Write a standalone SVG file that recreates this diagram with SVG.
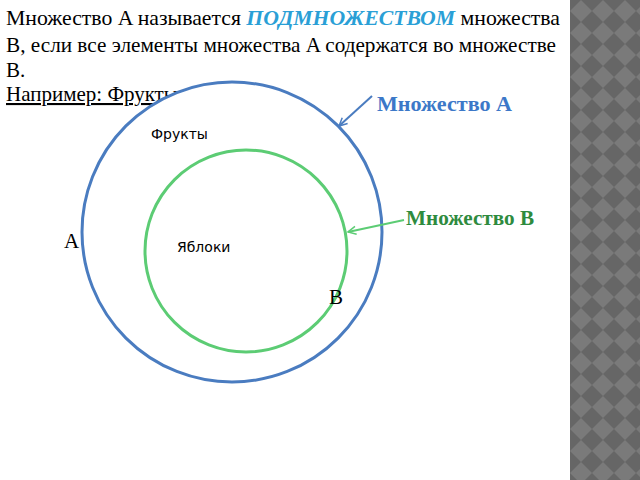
<svg xmlns="http://www.w3.org/2000/svg" width="640" height="480" viewBox="0 0 640 480">
<style>
.t{font-family:"Liberation Serif",serif;font-size:21px;fill:#000}
.s{font-family:"DejaVu Sans",sans-serif;font-size:14px;fill:#000}
</style>
<defs>
<pattern id="dia" width="22" height="22" patternUnits="userSpaceOnUse" x="570">
<rect width="22" height="22" fill="#666"/>
<path d="M11 0L22 11L11 22L0 11Z" fill="#7a7a7a"/>
</pattern>
<marker id="ab" markerWidth="10" markerHeight="10" refX="9" refY="5" orient="auto" markerUnits="userSpaceOnUse"><path d="M1 1L9 5L1 9" fill="none" stroke="#4a7cc0" stroke-width="1.5"/></marker>
<marker id="ag" markerWidth="10" markerHeight="10" refX="9" refY="5" orient="auto" markerUnits="userSpaceOnUse"><path d="M1 1L9 5L1 9" fill="none" stroke="#5ccc74" stroke-width="1.5"/></marker>
</defs>
<rect width="640" height="480" fill="#fff"/>
<rect x="570" y="0" width="70" height="480" fill="url(#dia)"/>
<text class="t" x="6" y="25" textLength="554" lengthAdjust="spacingAndGlyphs">Множество A называется <tspan fill="#2a9fd6" font-weight="bold" font-style="italic">ПОДМНОЖЕСТВОМ</tspan> множества</text>
<text class="t" x="6" y="52" textLength="550" lengthAdjust="spacingAndGlyphs">B, если все элементы множества A содержатся во множестве</text>
<text class="t" x="6" y="77">B.</text>
<text class="t" x="6" y="101" text-decoration="underline">Например: Фрукты:</text>
<g id="setA"><circle cx="232" cy="232" r="150" fill="#fff" stroke="#4a7cc0" stroke-width="3"/>
<text class="s" x="151" y="139">Фрукты</text></g>
<g id="setB"><circle cx="246" cy="251" r="101" fill="none" stroke="#5ccc74" stroke-width="3"/>
<text class="s" x="177" y="252">Яблоки</text></g>
<g id="connectors">
<line x1="372" y1="96" x2="339" y2="126" stroke="#4a7cc0" stroke-width="2" marker-end="url(#ab)"/>
<line x1="404" y1="220" x2="348" y2="232" stroke="#5ccc74" stroke-width="2" marker-end="url(#ag)"/>
</g>
<text class="t" x="377" y="111" font-weight="bold" style="fill:#3c78c8" textLength="135" lengthAdjust="spacingAndGlyphs">Множество A</text>
<text class="t" x="406" y="225" font-weight="bold" style="fill:#2e8b3e" textLength="128" lengthAdjust="spacingAndGlyphs">Множество B</text>
<text class="t" x="64" y="248">A</text>
<text class="t" x="329" y="304">B</text>
</svg>
